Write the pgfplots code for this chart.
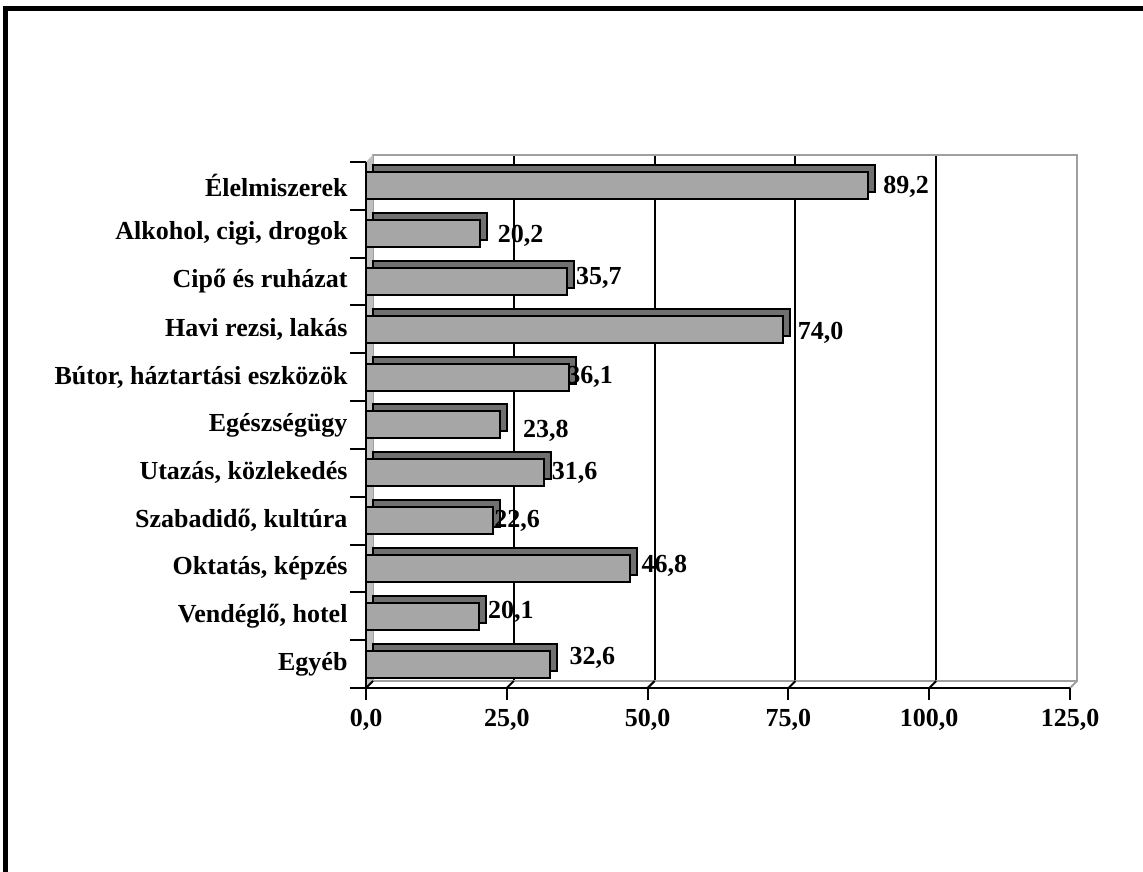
\documentclass[border=0pt]{standalone}
\usepackage{pgfplots}
\pgfplotsset{compat=1.18}
\usepackage{pgfplotstable}
\usepackage{fontspec}
\setmainfont{Liberation Serif}
\pgfplotsset{/pgf/number format/assume math mode=true}
\definecolor{barfront}{HTML}{A6A6A6}
\definecolor{barback}{HTML}{707070}
\definecolor{wallgray}{HTML}{BFBFBF}
\definecolor{planegray}{HTML}{A0A0A0}
\pgfplotstableread{
idx val dx dy
0 89.2 14 -1
1 20.2 17 -2
2 35.7 8 4
3 74.0 14 -4
4 36.1 -3 0
5 23.8 22 -6
6 31.6 7 0
7 22.6 0 0
8 46.8 11 3
9 20.1 8 4
10 32.6 19 6
}\datatab
\begin{document}
\begin{tikzpicture}[x=1bp,y=1bp]
\useasboundingbox (0,0) rectangle (1143,872);
\fill[white] (0,0) rectangle (1143,872);
\draw[line width=5bp] (5.5,-20) -- (5.5,863.5) -- (1160,863.5);
% back plane
\begin{axis}[
  at={(373bp,191bp)}, anchor=south west,
  scale only axis, width=704bp, height=526bp,
  xmin=0, xmax=125, ymin=-0.5, ymax=10.5,
  axis line style={planegray, line width=2bp},
  xtick={25,50,75,100}, xticklabels={}, ytick=\empty,
  major tick length=0pt,
  xmajorgrids, grid style={black, line width=2bp},
]
\end{axis}
% front
\begin{axis}[
  at={(366bp,184bp)}, anchor=south west,
  scale only axis, width=704bp, height=526bp,
  xmin=0, xmax=125, ymin=-0.5, ymax=10.5,
  y dir=reverse,
  clip=false,
  axis on top,
  axis x line*=bottom, axis y line*=left,
  axis line style={black, line width=2bp},
  every tick/.style={black, line width=2bp},
  tick align=outside,
  xtick={0,25,50,75,100,125},
  xticklabels={{0,0},{25,0},{50,0},{75,0},{100,0},{125,0}},
  major tick length=12bp,
  ytick={0,...,10},
  yticklabels={Élelmiszerek, {Alkohol, cigi, drogok}, Cipő és ruházat, {Havi rezsi, lakás}, {Bútor, háztartási eszközök}, Egészségügy, {Utazás, közlekedés}, {Szabadidő, kultúra}, {Oktatás, képzés}, {Vendéglő, hotel}, Egyéb},
  major y tick style={draw=none},
  minor ytick={-0.5,0.5,...,10.5},
  minor tick length=16bp,
  minor y tick style={black, line width=2bp},
  ticklabel style={font=\fontsize{26bp}{30bp}\selectfont\bfseries},
  yticklabel style={xshift=-3bp},
  xticklabel style={yshift=-6bp},
]
\fill[wallgray] (axis cs:0,10.5) -- ([shift={(7bp,7bp)}]axis cs:0,10.5) -- ([shift={(7bp,7bp)}]axis cs:0,-0.5) -- (axis cs:0,-0.5) -- cycle;
\draw[planegray, line width=1bp] ([shift={(7bp,7bp)}]axis cs:0,10.5) -- ([shift={(7bp,7bp)}]axis cs:0,-0.5);
\pgfplotsinvokeforeach{0,25,50,75,100}{\draw[black, line width=2bp] (axis cs:#1,10.5) -- ++(7bp,7bp);}
\draw[planegray, line width=2bp] (axis cs:125,10.5) -- ++(7bp,7bp);
\addplot[xbar, bar width=27bp, fill=barback, draw=black, line width=2bp, xshift=7bp, yshift=7bp, forget plot]
  table[x=val, y=idx] {\datatab};
\addplot[xbar, bar width=27bp, fill=barfront, draw=black, line width=2bp,
  point meta=x,
  visualization depends on={\thisrow{dx} \as \dxv},
  visualization depends on={\thisrow{dy} \as \dyv},
  nodes near coords={\pgfmathprintnumber[fixed, fixed zerofill, precision=1, use comma]{\pgfplotspointmeta}},
  every node near coord/.append style={font=\fontsize{26bp}{30bp}\selectfont\bfseries, anchor=west, inner sep=0pt, xshift=\dxv bp, yshift=\dyv bp, black},
  ]
  table[x=val, y=idx] {\datatab};
\end{axis}
\end{tikzpicture}
\end{document}
